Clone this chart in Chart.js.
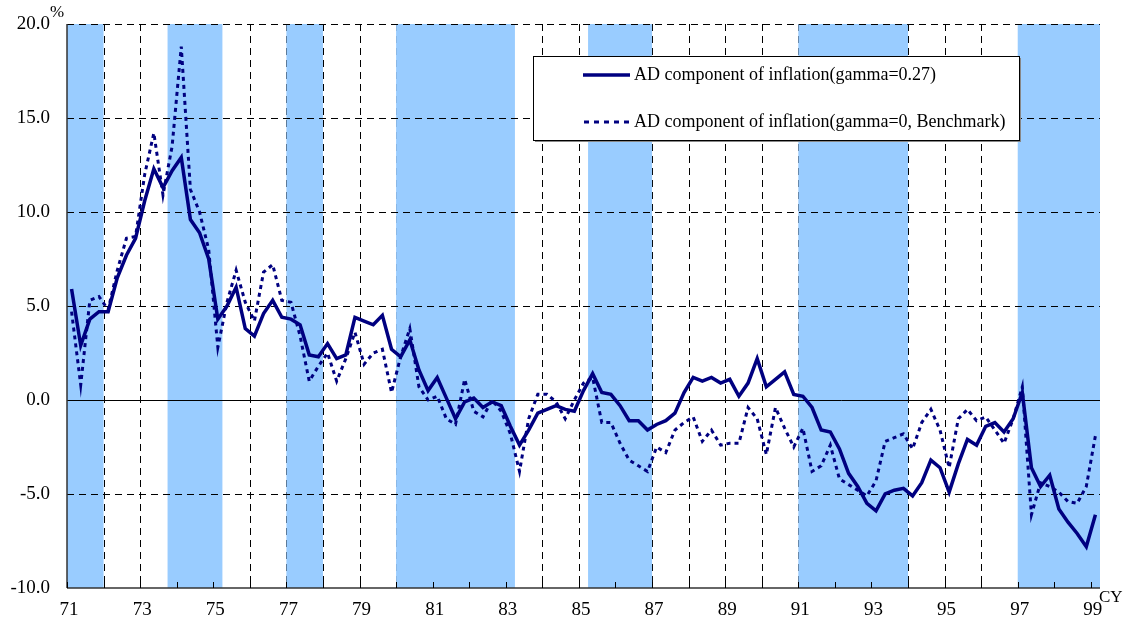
<!DOCTYPE html>
<html>
<head>
<meta charset="utf-8">
<script src="https://cdn.jsdelivr.net/npm/chart.js@4.4.1/dist/chart.umd.min.js"></script>
<style>
  html, body { margin: 0; padding: 0; background: #fff; }
  #wrap { width: 1126px; height: 627px; }
</style>
</head>
<body>
<div id="wrap"><canvas id="chart" width="1126" height="627"></canvas></div>
<script>
// quarterly categories 71Q1 .. 99Q1
const quarters = [];
for (let yr = 71; yr <= 98; yr++) {
  for (let q = 1; q <= 4; q++) quarters.push(yr + 'Q' + q);
}
quarters.push('99Q1');

// AD component of inflation, gamma = 0.27 (solid)
const adGamma027 = [
  5.9, 2.9, 4.3, 4.7,     // 71
  4.7, 6.5, 7.7, 8.6,     // 72
  10.6, 12.3, 11.3, 12.2, // 73
  12.9, 9.6, 8.9, 7.5,    // 74
  4.3, 5.0, 6.0, 3.8,     // 75
  3.4, 4.6, 5.3, 4.4,     // 76
  4.3, 4.0, 2.4, 2.3,     // 77
  3.0, 2.2, 2.4, 4.4,     // 78
  4.2, 4.0, 4.5, 2.7,     // 79
  2.3, 3.2, 1.6, 0.5,     // 80
  1.2, 0.1, -1.0, -0.1,   // 81
  0.1, -0.4, -0.1, -0.3,  // 82
  -1.4, -2.4, -1.6, -0.7, // 83
  -0.5, -0.3, -0.5, -0.6, // 84
  0.5, 1.4, 0.4, 0.3,     // 85
  -0.3, -1.1, -1.1, -1.6, // 86
  -1.3, -1.1, -0.7, 0.4,  // 87
  1.2, 1.0, 1.2, 0.9,     // 88
  1.1, 0.2, 0.9, 2.2,     // 89
  0.7, 1.1, 1.5, 0.3,     // 90
  0.2, -0.4, -1.6, -1.7,  // 91
  -2.6, -3.9, -4.6, -5.5, // 92
  -5.9, -5.0, -4.8, -4.7, // 93
  -5.1, -4.4, -3.2, -3.6, // 94
  -4.9, -3.4, -2.1, -2.4, // 95
  -1.4, -1.2, -1.7, -1.0, // 96
  0.4, -3.6, -4.6, -4.0,  // 97
  -5.8, -6.5, -7.1, -7.8, // 98
  -6.1                    // 99
];

// AD component of inflation, gamma = 0 (benchmark, dotted)
const adBenchmark = [
  4.7, 0.8, 5.3, 5.5,     // 71
  4.8, 6.9, 8.6, 8.7,     // 72
  12.0, 14.2, 10.9, 13.5, // 73
  18.8, 11.2, 10.0, 8.0,  // 74
  2.8, 5.2, 6.9, 5.2,     // 75
  4.2, 6.8, 7.2, 5.3,     // 76
  5.2, 3.4, 1.0, 1.8,     // 77
  2.5, 1.0, 2.2, 3.6,     // 78
  1.9, 2.5, 2.7, 0.4,     // 79
  2.3, 3.8, 0.7, 0.0,     // 80
  0.2, -1.0, -1.3, 1.1,   // 81
  -0.6, -0.9, 0.0, -0.6,  // 82
  -1.8, -3.8, -1.0, 0.3,  // 83
  0.3, -0.1, -1.0, 0.0,   // 84
  0.9, 1.2, -1.2, -1.2,   // 85
  -2.3, -3.2, -3.5, -3.8, // 86
  -2.5, -2.8, -1.6, -1.2, // 87
  -0.9, -2.2, -1.6, -2.4, // 88
  -2.3, -2.3, -0.4, -1.0, // 89
  -2.9, -0.4, -1.5, -2.5, // 90
  -1.5, -3.8, -3.5, -2.4, // 91
  -4.2, -4.5, -4.8, -5.1, // 92
  -4.3, -2.2, -2.0, -1.8, // 93
  -2.6, -1.2, -0.5, -1.6, // 94
  -3.6, -1.0, -0.5, -1.1, // 95
  -0.9, -1.6, -2.3, -1.0, // 96
  0.7, -6.1, -4.4, -4.6,  // 97
  -4.9, -5.4, -5.5, -4.6, // 98
  -1.9                    // 99
];

// year boundaries on the x axis and the labelled ones
const yearTicks = [];
for (let yr = 1971; yr <= 1999; yr++) yearTicks.push(yr);
const yearLabels = ['71', '73', '75', '77', '79', '81', '83', '85', '87', '89', '91', '93', '95', '97', '99'];
const yTicks = [-10, -5, 0, 5, 10, 15, 20];

// shaded periods (start, end) in years
const recessions = [
  [1971.0, 1972.0],
  [1973.75, 1975.25],
  [1977.0, 1978.0],
  [1980.0, 1983.25],
  [1985.25, 1987.0],
  [1991.0, 1994.0],
  [1997.0, 1999.25]
];

const seriesNames = [
  'AD component of inflation(gamma=0.27)',
  'AD component of inflation(gamma=0, Benchmark)'
];

const NAVY = '#000080';
const SERIF = '"Liberation Serif", "Times New Roman", serif';

// quarter label -> position at the middle of the quarter
function quarterPos(label) {
  const yr = 1900 + parseInt(label.slice(0, 2), 10);
  const q = parseInt(label.slice(3), 10);
  return yr + (q - 1) * 0.25 + 0.125;
}
const toPoints = vals => vals.map((v, i) => ({ x: quarterPos(quarters[i]), y: v }));

function hline(ctx, x1, x2, y) {
  ctx.beginPath(); ctx.moveTo(x1, y); ctx.lineTo(x2, y); ctx.stroke();
}
function vline(ctx, x, y1, y2) {
  ctx.beginPath(); ctx.moveTo(x, y1); ctx.lineTo(x, y2); ctx.stroke();
}

const backdrop = {
  id: 'backdrop',
  beforeDatasetsDraw(chart) {
    const { ctx, chartArea: a, scales: { x, y } } = chart;
    ctx.save();

    // vertical dashed gridlines (sit under the shading)
    ctx.strokeStyle = '#000';
    ctx.lineWidth = 1;
    ctx.setLineDash([7, 5]);
    yearTicks.forEach(yr => {
      if (yr === 1971) return;
      const px = Math.round(x.getPixelForValue(yr)) + 0.5;
      vline(ctx, px, a.top, a.bottom);
    });

    // shaded periods
    ctx.fillStyle = '#99ccff';
    recessions.forEach(([s, e]) => {
      const l = x.getPixelForValue(s);
      const r = x.getPixelForValue(e);
      ctx.fillRect(l, a.top, r - l, a.bottom - a.top);
    });

    // horizontal dashed gridlines
    ctx.setLineDash([7, 5]);
    yTicks.forEach(v => {
      if (v === 0 || v === -10) return;
      const py = Math.round(y.getPixelForValue(v)) + 0.5;
      hline(ctx, a.left, a.right, py);
    });

    // zero line
    ctx.setLineDash([]);
    hline(ctx, a.left, a.right, Math.round(y.getPixelForValue(0)) + 0.5);

    // axes
    ctx.strokeStyle = '#333';
    ctx.lineWidth = 1.5;
    vline(ctx, a.left, a.top, a.bottom);
    hline(ctx, a.left, a.right, a.bottom);

    // small inner ticks on the time axis
    ctx.lineWidth = 1;
    ctx.strokeStyle = '#000';
    yearTicks.forEach(yr => {
      const px = Math.round(x.getPixelForValue(yr)) + 0.5;
      vline(ctx, px, a.bottom, a.bottom - 6);
    });
    ctx.restore();
  },
  afterDraw(chart) {
    const { ctx, chartArea: a } = chart;
    ctx.save();

    // unit and axis name
    ctx.fillStyle = '#000';
    ctx.font = '17px ' + SERIF;
    ctx.textBaseline = 'alphabetic';
    ctx.textAlign = 'left';
    ctx.fillText('%', 50, 17);
    ctx.fillText('CY', a.right - 1, a.bottom + 14);

    // legend box
    const bx = 533, by = 56, bw = 486, bh = 84;
    ctx.fillStyle = '#888';
    ctx.fillRect(bx + 2, by + bh, bw, 2);
    ctx.fillRect(bx + bw, by + 2, 2, bh);
    ctx.fillStyle = '#fff';
    ctx.fillRect(bx, by, bw, bh);
    ctx.strokeStyle = '#000';
    ctx.lineWidth = 1;
    ctx.strokeRect(bx + 0.5, by + 0.5, bw, bh);

    const rows = [by + 19, by + 66];
    ctx.strokeStyle = NAVY;
    ctx.lineWidth = 3.5;
    ctx.setLineDash([]);
    hline(ctx, 583, 630, rows[0]);
    ctx.lineWidth = 3;
    ctx.setLineDash([5, 5]);
    hline(ctx, 584, 632, rows[1]);
    ctx.setLineDash([]);

    ctx.fillStyle = '#000';
    ctx.font = '18px ' + SERIF;
    ctx.textBaseline = 'middle';
    ctx.fillText(seriesNames[0], 634, rows[0]);
    ctx.fillText(seriesNames[1], 634, rows[1]);
    ctx.restore();
  }
};

new Chart(document.getElementById('chart').getContext('2d'), {
  type: 'line',
  data: {
    datasets: [
      {
        label: seriesNames[1],
        data: toPoints(adBenchmark),
        borderColor: NAVY,
        borderWidth: 3,
        borderDash: [4, 4],
        pointRadius: 0,
        tension: 0,
        fill: false
      },
      {
        label: seriesNames[0],
        data: toPoints(adGamma027),
        borderColor: NAVY,
        borderWidth: 3.5,
        pointRadius: 0,
        tension: 0,
        fill: false
      }
    ]
  },
  options: {
    responsive: false,
    devicePixelRatio: 1,
    animation: false,
    layout: { padding: { top: 24, right: 26, left: 0, bottom: 0 } },
    plugins: {
      legend: { display: false },
      tooltip: { enabled: false }
    },
    scales: {
      x: {
        type: 'linear',
        min: 1971,
        max: 1999.25,
        afterBuildTicks: s => { s.ticks = yearTicks.map(v => ({ value: v })); },
        afterFit: s => { s.height = 39; },
        grid: { display: false, drawTicks: false },
        border: { display: false },
        ticks: {
          autoSkip: false,
          maxRotation: 0,
          padding: 11,
          labelOffset: 2,
          color: '#000',
          font: { family: SERIF, size: 19 },
          callback: v => {
            const lab = String(v).slice(2);
            return yearLabels.includes(lab) ? lab : '';
          }
        }
      },
      y: {
        min: -10,
        max: 20,
        afterBuildTicks: s => { s.ticks = yTicks.map(v => ({ value: v })); },
        afterFit: s => {
          s.width = 67;
          // the extra label padding should not push the plot down
          s.paddingTop = 0;
          s.paddingBottom = 0;
        },
        grid: { display: false, drawTicks: false },
        border: { display: false },
        ticks: {
          padding: 17,
          color: '#000',
          font: { family: SERIF, size: 19 },
          callback: v => v.toFixed(1)
        }
      }
    }
  },
  plugins: [backdrop]
});
</script>
</body>
</html>
